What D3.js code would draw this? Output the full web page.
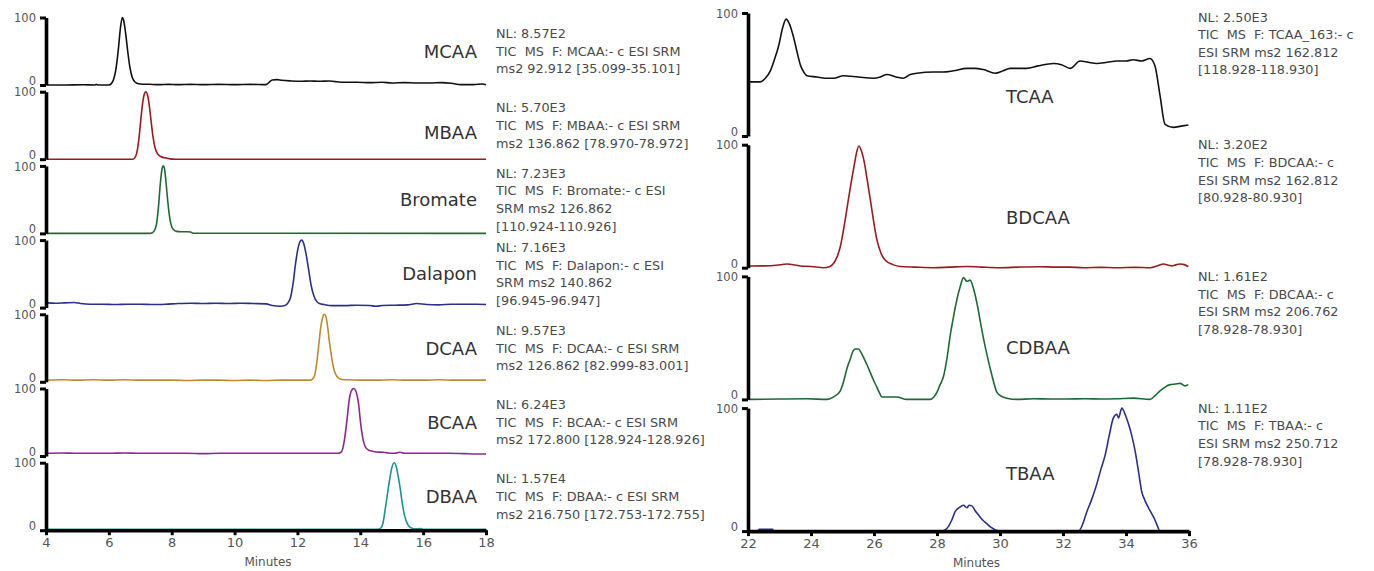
<!DOCTYPE html>
<html>
<head>
<meta charset="utf-8">
<script src="https://cdn.jsdelivr.net/npm/d3@7"></script>
<style>
  body { margin: 0; background: #fff; }
  svg text { font-family: "DejaVu Sans", sans-serif; white-space: pre; }
</style>
</head>
<body>
<svg width="1374" height="571"></svg>
<script>
// ---- data: [minutes, relative abundance %] ----
const mcaa = [[4.03,0],[4.6,0],[5.2,0.3],[5.55,0],[5.6,1.2],[5.65,0],[6.0,0],[6.08,2],[6.15,8],[6.22,22],[6.3,52],[6.37,85],[6.43,100],[6.47,96],[6.53,78],[6.6,50],[6.67,26],[6.74,12],[6.82,5],[6.9,2.5],[7.0,1.5],[7.3,1],[7.6,0.5],[7.9,1],[8.2,0.5],[8.6,1],[9.0,0.5],[9.5,1],[10.0,0.5],[10.5,1],[11.0,0.5],[11.1,4],[11.2,7.5],[11.35,8],[11.5,7],[11.8,6],[12.1,5.5],[12.4,6],[12.7,5.5],[13.0,6],[13.2,5],[13.5,4],[13.9,4],[14.3,3.5],[14.7,4],[15.0,3],[15.4,3.5],[15.8,3],[16.2,3],[16.6,3.5],[16.9,2.5],[17.2,0.5],[17.6,0.5],[17.9,1.5],[18.0,0.5]];
const mbaa = [[4.03,0],[6.5,0],[6.77,0],[6.84,3],[6.9,12],[6.96,32],[7.02,60],[7.08,85],[7.14,98],[7.18,100],[7.22,97],[7.28,82],[7.34,58],[7.4,35],[7.47,17],[7.55,8],[7.65,4],[7.78,2],[7.95,0.5],[8.1,0],[18.0,0]];
const bromate = [[4.03,0],[7.3,0],[7.38,1],[7.45,4],[7.52,15],[7.58,40],[7.64,75],[7.69,95],[7.73,100],[7.77,96],[7.82,75],[7.88,45],[7.94,22],[8.0,10],[8.07,5],[8.15,3],[8.3,2.5],[8.5,2.5],[8.6,2],[8.68,0.3],[18.0,0]];
const dalapon = [[4.05,7],[4.3,6.5],[4.6,7],[4.9,7.5],[5.1,6],[5.4,5],[5.8,5],[6.2,4.5],[6.6,5],[7.0,5],[7.4,4.5],[7.8,5],[8.2,6],[8.6,6.5],[9.0,6],[9.4,6.5],[9.8,6],[10.2,6.5],[10.6,6],[11.0,5.5],[11.2,3],[11.45,2],[11.6,3],[11.7,7],[11.78,15],[11.86,35],[11.94,65],[12.02,88],[12.1,99],[12.14,100],[12.2,95],[12.28,78],[12.36,55],[12.44,32],[12.52,18],[12.6,10],[12.7,6],[12.85,4.5],[13.1,3],[13.5,3],[13.9,3.5],[14.3,3],[14.5,2],[14.7,3],[15.1,3.5],[15.5,4],[15.8,6],[16.1,4.5],[16.5,4],[16.9,5],[17.3,5],[17.7,5],[18.0,4.5]];
const dcaa = [[4.03,2.5],[4.5,3],[5.0,2.5],[5.5,3],[6.0,2.5],[6.5,3],[7.0,2.5],[7.5,2.5],[8.0,2.5],[8.5,2],[9.0,2.5],[9.5,2.5],[10.0,2],[10.5,2.5],[11.0,2],[11.5,2.5],[12.0,2.5],[12.4,2.5],[12.48,4],[12.55,10],[12.62,30],[12.68,55],[12.74,80],[12.8,95],[12.86,100],[12.91,96],[12.96,82],[13.01,62],[13.06,45],[13.11,30],[13.17,17],[13.24,9],[13.32,5],[13.42,3.5],[13.6,3],[14.0,2.5],[14.5,2.5],[15.0,3],[15.5,2.5],[16.0,2.5],[16.5,3],[17.0,2.5],[17.5,2.5],[18.0,2.5]];
const bcaa = [[4.03,4],[4.5,4.5],[5.0,4],[5.5,4],[6.0,4],[6.5,4.5],[7.0,4],[7.5,4],[8.0,4],[8.5,4],[9.0,3.5],[9.5,4],[10.0,4],[10.5,4],[11.0,4],[11.5,4],[12.0,4],[12.5,4],[13.0,4],[13.3,4],[13.4,6],[13.5,25],[13.58,55],[13.65,84],[13.72,97],[13.79,100],[13.86,96],[13.94,79],[14.02,45],[14.1,22],[14.18,12],[14.3,8],[14.5,6],[14.73,5.5],[14.9,4.5],[15.1,4],[15.26,5.5],[15.4,4],[15.8,4],[16.3,4],[16.8,4],[17.3,3.5],[17.7,3],[18.0,3]];
const dbaa = [[4.03,1.5],[5.0,1.5],[6.0,1.5],[7.0,1.5],[8.0,1.5],[9.0,1.5],[10.0,1.5],[11.0,1.5],[12.0,1.5],[13.0,1.5],[14.0,1.5],[14.55,1.5],[14.65,3],[14.72,10],[14.79,30],[14.86,52],[14.93,74],[15.0,92],[15.08,100],[15.15,93],[15.21,79],[15.27,62],[15.32,45],[15.38,28],[15.45,15],[15.53,7],[15.64,3],[15.75,2],[15.9,2.5],[16.0,1.5],[17.0,1.5],[18.0,1.5]];

const tcaa = [[22.02,44],[22.39,44],[22.55,47],[22.71,53],[22.85,63],[22.97,73],[23.1,88],[23.21,95],[23.3,92],[23.45,80],[23.56,68],[23.66,58],[23.77,52],[23.87,49],[24.19,48],[24.45,47],[24.72,47],[25.03,49],[25.5,48],[25.98,47],[26.2,48],[26.41,50],[26.7,48],[26.94,47],[27.15,50],[27.36,51],[27.89,52],[28.2,52],[28.52,53],[28.95,55],[29.2,55],[29.47,54],[29.85,51],[30.1,53],[30.32,55],[30.85,55],[31.2,57],[31.7,59],[31.95,58],[32.23,55],[32.54,61],[32.8,60],[33.07,59],[33.4,60],[33.71,61],[34.0,61],[34.23,62],[34.5,61],[34.76,63],[34.92,57],[35.08,33],[35.24,9.5],[35.5,7],[35.75,8],[35.98,9]];
const bdcaa = [[22.02,1.4],[22.5,1.5],[22.9,2],[23.24,3],[23.66,1.4],[24.0,1],[24.4,0],[24.6,1],[24.72,3.6],[24.83,9],[24.93,17],[25.06,35],[25.19,56],[25.28,70],[25.37,83],[25.45,94],[25.52,99],[25.6,95],[25.69,86],[25.78,72],[25.88,56],[25.98,39],[26.09,23],[26.22,12],[26.36,6],[26.6,2.5],[26.83,1],[27.3,0.5],[27.89,0],[28.4,0.5],[28.95,1],[29.4,0.5],[30.0,0],[30.6,0.5],[31.27,0.8],[31.8,0.5],[32.2,0.5],[32.65,0],[33.2,0.3],[33.71,0],[34.3,0.3],[34.77,0],[35.0,1.5],[35.19,3],[35.35,2],[35.46,1.4],[35.6,2.5],[35.72,3],[35.85,2.5],[35.98,1]];
const cdbaa = [[22.02,0],[23.0,0.3],[23.87,0.5],[24.51,0],[24.72,2],[24.93,7],[25.04,15],[25.14,25],[25.25,33],[25.35,40],[25.43,41],[25.51,41],[25.59,38],[25.67,34],[25.78,28],[25.88,22],[25.98,16],[26.09,10],[26.18,5],[26.25,2],[26.5,2],[26.73,2],[27.04,0],[27.4,0],[27.78,0],[27.9,2],[28.0,6],[28.1,12],[28.21,19],[28.32,34],[28.42,52],[28.53,68],[28.63,81],[28.74,92],[28.84,99],[28.95,96],[29.05,97],[29.16,90],[29.27,78],[29.37,64],[29.48,49],[29.58,37],[29.69,25],[29.8,14],[29.9,6],[30.05,2.5],[30.22,1],[30.53,0],[31.06,0.5],[31.6,0.3],[32.12,0.3],[32.7,0.5],[33.2,0.3],[33.7,0.5],[34.23,1],[34.76,0],[34.92,3],[35.08,7],[35.24,10],[35.4,12],[35.56,12.5],[35.72,13],[35.87,11],[35.98,12]];
const tbaa = [[22.0,0],[22.3,0],[22.36,1.4],[22.78,1.4],[22.82,0],[28.15,0],[28.26,1],[28.37,4],[28.47,9],[28.58,16],[28.7,19],[28.84,21],[28.95,19],[29.02,21],[29.11,20.5],[29.2,17],[29.32,13],[29.45,9],[29.58,6],[29.72,3],[29.85,1],[29.95,0],[32.49,0],[32.6,4],[32.76,16],[32.9,25],[33.07,38],[33.2,50],[33.34,62],[33.47,78],[33.6,92],[33.71,95],[33.76,92],[33.87,100],[33.97,95],[34.08,87],[34.18,78],[34.29,65],[34.4,48],[34.5,32],[34.6,25],[34.71,19],[34.82,14],[34.92,9],[35.0,4],[35.08,0],[36.0,0]];

const leftNames = ['MCAA', 'MBAA', 'Bromate', 'Dalapon', 'DCAA', 'BCAA', 'DBAA'];
const leftSeries = [mcaa, mbaa, bromate, dalapon, dcaa, bcaa, dbaa];
const leftColors = ['#111111', '#9a1b1f', '#1d6a35', '#2c2f8c', '#c08a2c', '#8b2a8a', '#1a9490'];
const leftNotes = [
  ['NL: 8.57E2', 'TIC  MS  F: MCAA:- c ESI SRM', 'ms2 92.912 [35.099-35.101]'],
  ['NL: 5.70E3', 'TIC  MS  F: MBAA:- c ESI SRM', 'ms2 136.862 [78.970-78.972]'],
  ['NL: 7.23E3', 'TIC  MS  F: Bromate:- c ESI', 'SRM ms2 126.862', '[110.924-110.926]'],
  ['NL: 7.16E3', 'TIC  MS  F: Dalapon:- c ESI', 'SRM ms2 140.862', '[96.945-96.947]'],
  ['NL: 9.57E3', 'TIC  MS  F: DCAA:- c ESI SRM', 'ms2 126.862 [82.999-83.001]'],
  ['NL: 6.24E3', 'TIC  MS  F: BCAA:- c ESI SRM', 'ms2 172.800 [128.924-128.926]'],
  ['NL: 1.57E4', 'TIC  MS  F: DBAA:- c ESI SRM', 'ms2 216.750 [172.753-172.755]']
];

const rightNames = ['TCAA', 'BDCAA', 'CDBAA', 'TBAA'];
const rightSeries = [tcaa, bdcaa, cdbaa, tbaa];
const rightColors = ['#111111', '#9a1b1f', '#1d6a35', '#2c2f8c'];
const rightNotes = [
  ['NL: 2.50E3', 'TIC  MS  F: TCAA_163:- c', 'ESI SRM ms2 162.812', '[118.928-118.930]'],
  ['NL: 3.20E2', 'TIC  MS  F: BDCAA:- c', 'ESI SRM ms2 162.812', '[80.928-80.930]'],
  ['NL: 1.61E2', 'TIC  MS  F: DBCAA:- c', 'ESI SRM ms2 206.762', '[78.928-78.930]'],
  ['NL: 1.11E2', 'TIC  MS  F: TBAA:- c', 'ESI SRM ms2 250.712', '[78.928-78.930]']
];

const leftTicks = [4, 6, 8, 10, 12, 14, 16, 18];
const rightTicks = [22, 24, 26, 28, 30, 32, 34, 36];
const yTicks = [0, 100];
const xTitle = 'Minutes';

// ---- layout ----
const svg = d3.select('svg');

// one stacked group of traces sharing an x axis
function drawStack(o) {
  const x = d3.scaleLinear()
    .domain(d3.extent(o.ticks))
    .range([o.x0, o.x1]);
  const g = svg.append('g');

  o.series.forEach((data, i) => {
    const top = o.top + i * o.pitch;
    const y = d3.scaleLinear().domain([0, 100]).range([top + o.h, top]);

    const line = d3.line()
      .x((d) => x(d[0]))
      .y((d) => y(d[1]))
      .curve(d3.curveMonotoneX);

    g.append('path')
      .datum(data)
      .attr('d', line)
      .attr('fill', 'none')
      .attr('stroke', o.colors[i])
      .attr('stroke-width', 1.6)
      .attr('stroke-linejoin', 'round');

    // y axis 0 / 100
    const ya = g.append('g')
      .attr('transform', `translate(${o.x0},0)`)
      .call(d3.axisLeft(y).tickValues(yTicks).tickSize(6).tickSizeOuter(0).tickPadding(4));
    ya.select('.domain').style('stroke', '#000').style('stroke-width', '3.6px');
    ya.selectAll('.tick line').style('stroke', '#000').style('stroke-width', '3px');
    ya.selectAll('.tick text')
      .attr('fill', '#555')
      .attr('dy', (d) => (d === 0 ? '-0.04em' : '0.36em'))
      .style('font-size', '11.5px');

    // compound name
    g.append('text')
      .attr('x', o.nameX)
      .attr('y', top + o.h * o.nameFrac[i])
      .attr('dy', '0.36em')
      .attr('text-anchor', o.nameAnchor)
      .attr('fill', '#333')
      .style('font-size', '18px')
      .text(o.names[i]);

    // NL / scan filter block
    const lines = o.notes[i];
    const lh = 17.6;
    const y0 = o.noteCenter
      ? top + o.h / 2 - (lines.length - 1) * lh / 2
      : top + o.noteDy[i];
    const t = g.append('text')
      .attr('fill', '#4a4a4a')
      .style('font-size', '12.8px');
    t.selectAll('tspan')
      .data(lines)
      .join('tspan')
      .attr('x', o.noteX)
      .attr('y', (d, k) => y0 + k * lh)
      .attr('dy', '0.36em')
      .text((d) => d);
  });

  // x axis on the bottom trace
  const bottom = o.top + (o.series.length - 1) * o.pitch + o.h;
  const xa = g.append('g')
    .attr('transform', `translate(0,${bottom})`)
    .call(d3.axisBottom(x).tickValues(o.ticks).tickSize(5).tickSizeOuter(0).tickPadding(3));
  xa.select('.domain').style('stroke', '#000').style('stroke-width', '3.6px');
  xa.selectAll('.tick line').style('stroke', '#000').style('stroke-width', '3px');
  xa.selectAll('.tick text').attr('fill', '#555').style('font-size', '13px');

  g.append('text')
    .attr('x', (o.x0 + o.x1) / 2 + o.titleDx)
    .attr('y', bottom + 36)
    .attr('text-anchor', 'middle')
    .attr('fill', '#555')
    .style('font-size', '12px')
    .text(xTitle);
}

drawStack({
  series: leftSeries, names: leftNames, colors: leftColors, notes: leftNotes, ticks: leftTicks,
  x0: 46, x1: 486, top: 17.5, pitch: 74.2, h: 67.5,
  nameX: 477, nameAnchor: 'end', nameFrac: [0.5, 0.6, 0.5, 0.5, 0.5, 0.5, 0.5],
  noteX: 496, noteCenter: true, titleDx: 2
});

drawStack({
  series: rightSeries, names: rightNames, colors: rightColors, notes: rightNotes, ticks: rightTicks,
  x0: 748, x1: 1189, top: 13, pitch: 131.7, h: 123,
  nameX: 1006, nameAnchor: 'start', nameFrac: [0.68, 0.59, 0.58, 0.53],
  noteX: 1198, noteCenter: false, noteDy: [4, 0, 0, 0], titleDx: 8
});
</script>
</body>
</html>
